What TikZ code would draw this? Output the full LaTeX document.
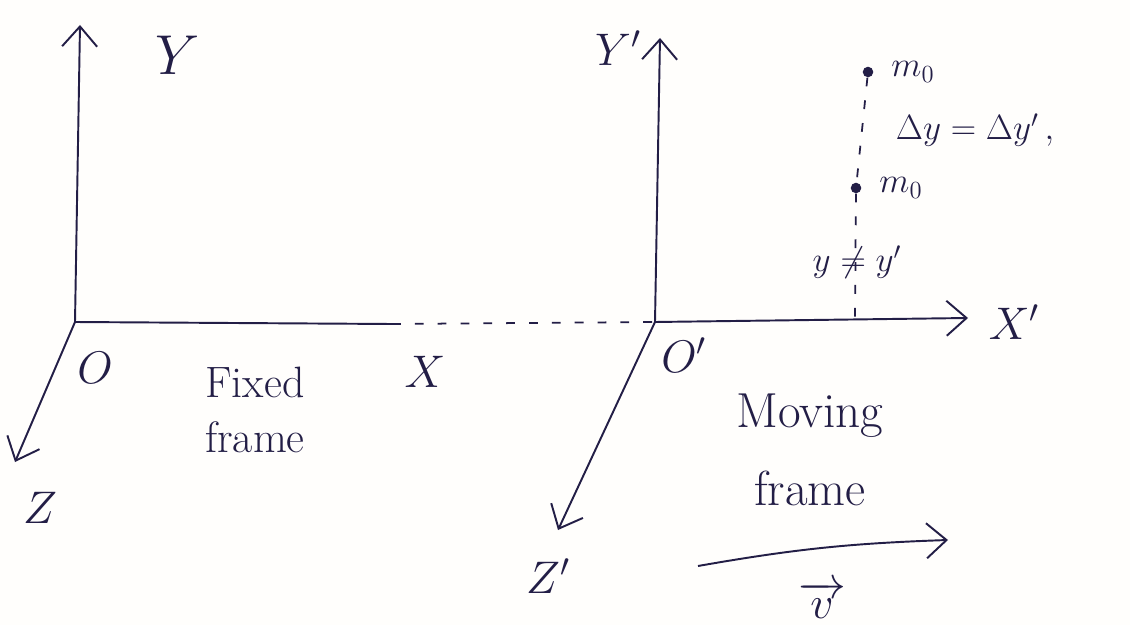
\documentclass[tikz,border=0pt]{standalone}
\usepackage{fix-cm}
\usepackage{amsmath, amssymb}
\usepackage{tikz}
\usetikzlibrary{arrows.meta, positioning}
\usepackage{xcolor}
\definecolor{inkblue}{RGB}{35,30,70}
\definecolor{paper}{RGB}{255,254,252}

\begin{document}
\begin{tikzpicture}[
    x=0.02cm, y=-0.02cm,
    axis/.style={draw=inkblue, line width=1.1pt,
                 -{Straight Barb[length=4mm, width=7mm, line width=1.1pt]}},
    plainaxis/.style={draw=inkblue, line width=1.1pt},
    guide/.style={draw=inkblue, line width=1pt, dash pattern=on 5pt off 8pt},
    lbl/.style={text=inkblue, font=\fontsize{26}{28}\selectfont, inner sep=0pt},
    note/.style={text=inkblue, font=\fontsize{20}{24}\selectfont, inner sep=0pt},
    mass/.style={circle, fill=inkblue, inner sep=0pt, minimum size=6pt}
]
\fill[paper] (0,0) rectangle (1130,625);
\useasboundingbox (0,0) rectangle (1130,625);
%% fixed frame
\coordinate (o) at (75,322);
\coordinate (ytip) at (80,25);
\coordinate (xend) at (392,324);
\coordinate (ztip) at (15,462);
\draw[axis] (o) -- (ytip);
\draw[axis] (o) -- (ztip);
\draw[plainaxis] (o) -- (xend);
\node[lbl, font=\fontsize{32}{34}\selectfont] (ylbl) at (178,55) {$Y$};
\node[lbl] (xlbl) at (425,372) {$X$};
\node[lbl] (zlbl) at (40,508) {$Z$};
\node[lbl] (olbl) at (95,368) {$O$};
\node[note, align=center, font=\fontsize{25}{31}\selectfont] (fixed) at (255,410)
    {Fixed\\frame};
%% moving frame
\coordinate (o2) at (655,322);
\coordinate (y2tip) at (660,38);
\coordinate (x2tip) at (968,318);
\coordinate (z2tip) at (558,530);
\draw[guide] (xend) -- (o2);
\draw[axis] (o2) -- (y2tip);
\draw[axis] (o2) -- (x2tip);
\draw[axis] (o2) -- (z2tip);
\node[lbl] (y2lbl) at (618,48) {$Y'$};
\node[lbl] (x2lbl) at (1014,322) {$X'$};
\node[lbl] (z2lbl) at (548,576) {$Z'$};
\node[lbl] (o2lbl) at (684,355) {$O'$};
\node[note, align=center, font=\fontsize{28}{44}\selectfont] (moving) at (810,450)
    {Moving\\frame};
%% velocity of the moving frame
\coordinate (vstart) at (698,566);
\coordinate (vend) at (948,540);
\draw[axis] (vstart) to[bend left=4] (vend);
\node[lbl] (vlbl) at (822,600) {$\overrightarrow{\;v\;}$};
%% mass seen from both frames
\node[mass] (m1) at (868,72) {};
\node[mass] (m2) at (856,188) {};
\coordinate (foot) at (855,322);
\draw[guide] (m1) -- (m2) -- (foot);
\node[note, right=0.35cm of m1] (m1lbl) {$m_0$};
\node[note, right=0.35cm of m2] (m2lbl) {$m_0$};
\node[note] (dy) at (975,130) {$\Delta y = \Delta y'\,,$};
\node[note] (yneq) at (857,262) {$y \neq y'$};
\end{tikzpicture}
\end{document}
